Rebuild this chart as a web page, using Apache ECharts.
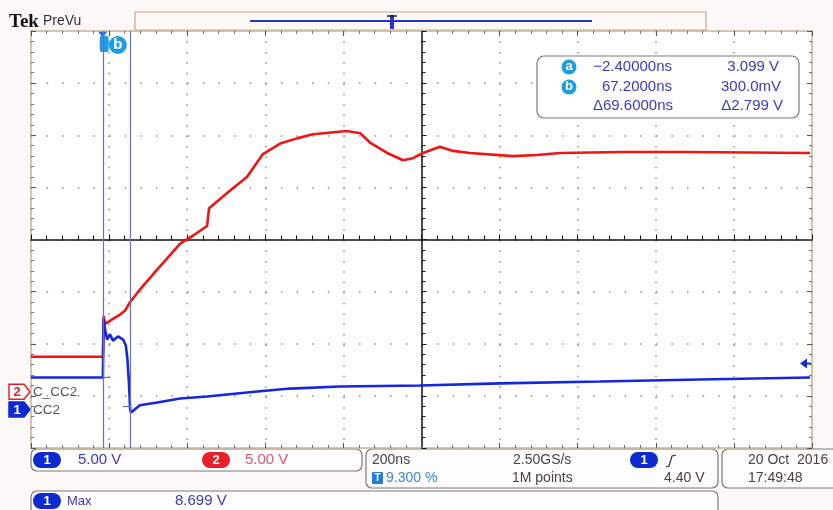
<!DOCTYPE html>
<html>
<head>
<meta charset="utf-8">
<script src="https://cdn.jsdelivr.net/npm/echarts@6/dist/echarts.min.js"></script>
<style>
html, body { margin: 0; padding: 0; background: #fcf8f8; }
#main { width: 833px; height: 510px; }
</style>
</head>
<body>
<div id="main"></div>
<script>
// scope settings
var nsPerDiv = 200;
var triggerPct = 9.3;
var ch1VoltsPerDiv = 5;
var ch2VoltsPerDiv = 5;
var ch1Offset = -3.26;   // ground marker, divisions from screen centre
var ch2Offset = -2.92;

// CH1 (blue, CC2): time in ns, volts
var ch1Time = [-186, -2, 0, 3.6, 9, 16, 24, 37, 50, 57, 61, 65, 68, 70, 93, 137, 196, 265, 393, 478, 605, 810, 1015, 1271, 1527, 1809];
var ch1Volt = [3.06, 3.06, 8.7, 7.66, 6.7, 7.2, 6.6, 7.0, 6.7, 6.1, 4.8, 2.4, 0.0, -0.3, 0.4, 0.67, 1.05, 1.24, 1.72, 2.0, 2.2, 2.3, 2.5, 2.68, 2.87, 3.06];

// CH2 (red, C_CC2): time in ns, volts
var ch2Time = [-186, -2, 0, 3.6, 16, 29, 42, 55, 68, 93, 132, 170, 196, 234, 265, 270, 324, 367, 408, 452, 495, 536, 623, 657, 682, 726, 767, 792, 818, 861, 895, 938, 1048, 1110, 1169, 1323, 1494, 1809];
var ch2Volt = [3.35, 3.35, 7.27, 6.5, 6.8, 7.1, 7.4, 7.8, 8.6, 9.8, 11.5, 13.1, 14.2, 15.1, 15.9, 17.6, 19.3, 20.6, 22.8, 23.8, 24.3, 24.7, 25.0, 24.8, 23.9, 22.9, 22.2, 22.4, 22.9, 23.5, 23.1, 22.9, 22.6, 22.7, 22.9, 23.0, 23.0, 22.9];

// cursors a / b (on CH1)
var cursorTime = [-2.4, 67.2];
var cursorVolt = [3.099, 0.300];
var triggerLevel = 4.40;

var centerTime = -triggerPct / 100 * nsPerDiv * 10 + nsPerDiv * 5;
function tDiv(t) { return (t - centerTime) / nsPerDiv; }
function ch1Div(v) { return v / ch1VoltsPerDiv + ch1Offset; }
function ch2Div(v) { return v / ch2VoltsPerDiv + ch2Offset; }

var ch1Data = [], ch2Data = [];
for (var i = 0; i < ch1Time.length; i++) ch1Data.push([tDiv(ch1Time[i]), ch1Div(ch1Volt[i])]);
for (var j = 0; j < ch2Time.length; j++) ch2Data.push([tDiv(ch2Time[j]), ch2Div(ch2Volt[j])]);

var FONT = '"Liberation Sans", Arial, sans-serif';
var frameColor = '#c9b498';
var dotColor = '#8c8c8c';
var cursorColor = '#6a6ad8';

function edgeAxis(pos, isX) {
  return {
    type: 'value', position: pos, min: isX ? -5 : -4, max: isX ? 5 : 4, interval: 1,
    axisLine: { show: true, onZero: false, lineStyle: { color: frameColor, width: 1.5 } },
    axisTick: { show: true, inside: true, length: 5, lineStyle: { color: '#555' } },
    minorTick: { show: true, splitNumber: 5, length: 3, lineStyle: { color: '#777' } },
    axisLabel: { show: false },
    splitLine: { show: false }
  };
}

var chart = echarts.init(document.getElementById('main'));
chart.setOption({
  backgroundColor: '#fcf8f8',
  animation: false,
  grid: { left: 31, right: 21, top: 31, bottom: 62, show: true, backgroundColor: '#ffffff', borderWidth: 0 },
  xAxis: [
    {
      type: 'value', min: -5, max: 5, interval: 1, position: 'bottom',
      axisLine: { show: true, onZero: true, lineStyle: { color: '#111', width: 1.5 } },
      axisTick: { show: true, inside: true, length: 5, lineStyle: { color: '#111' } },
      minorTick: { show: true, splitNumber: 5, length: 4, lineStyle: { color: '#111' } },
      axisLabel: { show: false },
      splitLine: { show: true, lineStyle: { color: dotColor, width: 1.5, type: [1.5, 8.95] } }
    },
    edgeAxis('top', true),
    edgeAxis('bottom', true)
  ],
  yAxis: [
    {
      type: 'value', min: -4, max: 4, interval: 1, position: 'left',
      axisLine: { show: true, onZero: true, lineStyle: { color: '#111', width: 1.5 } },
      axisTick: { show: true, inside: true, length: 5, lineStyle: { color: '#111' } },
      minorTick: { show: true, splitNumber: 5, length: 4, lineStyle: { color: '#111' } },
      axisLabel: { show: false },
      splitLine: { show: true, lineStyle: { color: dotColor, width: 1.5, type: [1.5, 14.12] } }
    },
    edgeAxis('left', false),
    edgeAxis('right', false)
  ],
  series: [
    {
      name: 'C_CC2', type: 'line', data: ch2Data, showSymbol: false,
      lineStyle: { color: '#f01414', width: 2.6 }, z: 3
    },
    {
      name: 'CC2', type: 'line', data: ch1Data, showSymbol: false,
      lineStyle: { color: '#1426e0', width: 2.6 }, z: 4,
      markLine: {
        silent: true, symbol: 'none', label: { show: false },
        lineStyle: { color: cursorColor, width: 1.2, type: 'solid' },
        data: [
          { xAxis: tDiv(cursorTime[0]) },
          { xAxis: tDiv(cursorTime[1]) },
          [{ coord: [tDiv(cursorTime[0]), ch1Div(cursorVolt[0])] }, { coord: [tDiv(cursorTime[0] + 18), ch1Div(cursorVolt[0])] }],
          [{ coord: [tDiv(cursorTime[1] - 18), ch1Div(cursorVolt[1])] }, { coord: [tDiv(cursorTime[1]), ch1Div(cursorVolt[1])] }]
        ]
      }
    }
  ]
});

// helpers for the readout decorations
function pill(x, y, label, color) {
  return { type: 'group', x: x, y: y, children: [
    { type: 'rect', shape: { x: 0, y: 0, width: 28, height: 16, r: 8 }, style: { fill: color } },
    { type: 'text', style: { text: label, x: 14, y: 8.5, align: 'center', verticalAlign: 'middle', fill: '#fff', font: 'bold 13px ' + FONT } }
  ] };
}
function box(x, y, w, h) {
  return { type: 'rect', shape: { x: x, y: y, width: w, height: h, r: 6 }, style: { fill: '#fefcfc', stroke: '#7a7a7a', lineWidth: 1.2 } };
}
function txt(s, x, y, color, size, align) {
  return { type: 'text', style: { text: s, x: x, y: y, fill: color, font: (size || 14) + 'px ' + FONT, align: align || 'left', verticalAlign: 'middle' } };
}
function chMarker(x, y, label, color, filled) {
  return { type: 'group', x: x, y: y, children: [
    { type: 'polygon', shape: { points: [[0, 0], [15, 0], [21, 7.5], [15, 15], [0, 15]] },
      style: { fill: filled ? color : '#fff', stroke: color, lineWidth: 1.5 } },
    { type: 'text', style: { text: label, x: 8, y: 8, align: 'center', verticalAlign: 'middle', fill: filled ? '#fff' : color, font: 'bold 13px ' + FONT } }
  ] };
}

var pa = chart.convertToPixel({ xAxisIndex: 0, yAxisIndex: 0 }, [tDiv(cursorTime[0]), 0]);
var pb = chart.convertToPixel({ xAxisIndex: 0, yAxisIndex: 0 }, [tDiv(cursorTime[1]), 0]);
var pt = chart.convertToPixel({ xAxisIndex: 0, yAxisIndex: 0 }, [tDiv(0), ch1Div(triggerLevel)]);
var g1 = chart.convertToPixel({ xAxisIndex: 0, yAxisIndex: 0 }, [0, ch1Offset]);
var g2 = chart.convertToPixel({ xAxisIndex: 0, yAxisIndex: 0 }, [0, ch2Offset]);

var cyan = '#1c9de2';
var blueTxt = '#3a3ac4';
var grayTxt = '#444';

chart.setOption({
  graphic: [
    // header
    { type: 'text', style: { text: 'Tek', x: 9, y: 22, fill: '#111', font: 'bold 19px "Liberation Serif", serif', verticalAlign: 'middle' } },
    txt('PreVu', 43, 21, '#333', 14),
    { type: 'rect', shape: { x: 135, y: 12, width: 571, height: 18 }, style: { fill: '#fdf9f6', stroke: '#c7a98c', lineWidth: 1.2 } },
    { type: 'line', shape: { x1: 250, y1: 21, x2: 592, y2: 21 }, style: { stroke: '#2436cf', lineWidth: 2 } },
    { type: 'rect', shape: { x: 390, y: 15, width: 4, height: 14 }, style: { fill: '#2436cf' } },
    { type: 'line', shape: { x1: 387, y1: 16, x2: 397, y2: 16 }, style: { stroke: '#222', lineWidth: 1.5 } },

    // trigger position marker and cursor tags
    { type: 'polygon', shape: { points: [[pa[0] - 5, 31], [pa[0] + 5, 31], [pa[0], 38]] }, style: { fill: '#2a6ee0' } },
    { type: 'rect', shape: { x: pa[0] - 3, y: 36, width: 9, height: 16, r: 2 }, style: { fill: cyan } },
    { type: 'circle', shape: { cx: pb[0] - 12, cy: 45, r: 9 }, style: { fill: cyan } },
    { type: 'text', style: { text: 'b', x: pb[0] - 12, y: 45, align: 'center', verticalAlign: 'middle', fill: '#fff', font: 'bold 15px ' + FONT } },

    // cursor readout
    { type: 'rect', shape: { x: 537, y: 56, width: 262, height: 62, r: 7 }, style: { fill: '#ffffff', stroke: '#7a7a7a', lineWidth: 1.2 } },
    { type: 'circle', shape: { cx: 569, cy: 67, r: 7.5 }, style: { fill: cyan } },
    { type: 'text', style: { text: 'a', x: 569, y: 66.5, align: 'center', verticalAlign: 'middle', fill: '#fff', font: 'bold 13px ' + FONT } },
    { type: 'circle', shape: { cx: 569, cy: 87, r: 7.5 }, style: { fill: cyan } },
    { type: 'text', style: { text: 'b', x: 569, y: 86.5, align: 'center', verticalAlign: 'middle', fill: '#fff', font: 'bold 13px ' + FONT } },
    txt('\u22122.40000ns', 672, 67, blueTxt, 15, 'right'),
    txt('67.2000ns', 672, 87, blueTxt, 15, 'right'),
    txt('\u039469.6000ns', 673, 106, blueTxt, 15, 'right'),
    txt('3.099 V', 779, 67, blueTxt, 15, 'right'),
    txt('300.0mV', 781, 87, blueTxt, 15, 'right'),
    txt('\u03942.799 V', 783, 106, blueTxt, 15, 'right'),

    // channel ground markers
    chMarker(9, g2[1] - 7.5, '2', '#e8202a', false),
    txt('C_CC2', 33, g2[1] + 1, '#555', 13.5),
    chMarker(9, g1[1] - 7.5, '1', '#0b2bd0', true),
    txt('CC2', 33, g1[1] + 1, '#555', 13.5),

    // trigger level arrow on the right edge
    { type: 'polygon', shape: { points: [[800, pt[1]], [807, pt[1] - 5], [807, pt[1] + 5]] }, style: { fill: '#1426e0' } },
    { type: 'line', shape: { x1: 804, y1: pt[1], x2: 811, y2: pt[1] }, style: { stroke: '#1426e0', lineWidth: 2 } },

    // bottom readouts
    box(31, 449, 331, 22),
    pill(33, 452, '1', '#0b2bd0'),
    txt('5.00 V', 78, 460, blueTxt, 15),
    pill(202, 452, '2', '#e8202a'),
    txt('5.00 V', 245, 460, '#e05a6a', 15),

    box(366, 449, 352, 39),
    txt('200ns', 372, 460, grayTxt),
    { type: 'rect', shape: { x: 372, y: 472, width: 11, height: 12, r: 1 }, style: { fill: '#1b7fe0' } },
    { type: 'text', style: { text: 'T', x: 377.5, y: 478.5, align: 'center', verticalAlign: 'middle', fill: '#fff', font: 'bold 10px ' + FONT } },
    txt('9.300 %', 386, 478, '#3a8ad8'),
    txt('2.50GS/s', 513, 460, grayTxt),
    txt('1M points', 512, 478, grayTxt),
    pill(630, 452, '1', '#0b2bd0'),
    { type: 'polyline', shape: { points: [[666, 467], [669, 466], [672, 456], [676, 455]] }, style: { stroke: '#333', lineWidth: 1.2, fill: null } },
    txt('4.40 V', 664, 478, grayTxt),

    box(722, 449, 116, 39),
    txt('20 Oct  2016', 748, 460, grayTxt),
    txt('17:49:48', 748, 478, grayTxt),

    box(31, 491, 687, 26),
    pill(33, 493, '1', '#0b2bd0'),
    txt('Max', 67, 501, blueTxt, 13),
    txt('8.699 V', 175, 501, blueTxt, 15)
  ]
});
</script>
</body>
</html>
